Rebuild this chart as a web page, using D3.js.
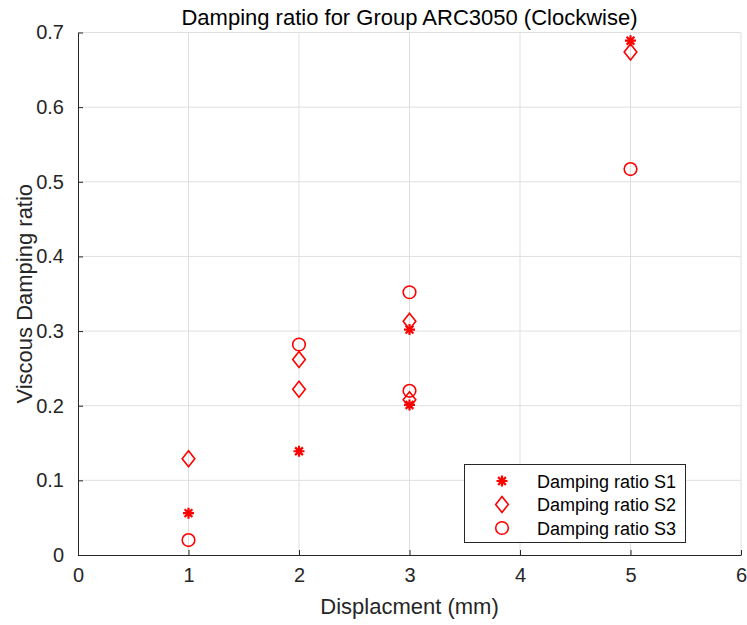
<!DOCTYPE html>
<html>
<head>
<meta charset="utf-8">
<script src="https://cdn.jsdelivr.net/npm/d3@7"></script>
<style>
  body { margin: 0; background: #fff; }
  svg { display: block; font-family: "Liberation Sans", Arial, Helvetica, sans-serif; }
</style>
</head>
<body>
<svg id="chart" width="747" height="625"></svg>
<script>
// Displacement (mm) and damping ratio for each specimen
const s1X = [1, 2, 3, 3, 5];
const s1Y = [0.056, 0.139, 0.302, 0.201, 0.689];
const s2X = [1, 2, 2, 3, 3, 5];
const s2Y = [0.129, 0.262, 0.222, 0.313, 0.208, 0.674];
const s3X = [1, 2, 3, 3, 5];
const s3Y = [0.020, 0.282, 0.352, 0.220, 0.517];

const xTicks = [0, 1, 2, 3, 4, 5, 6];
const yTicks = [0, 0.1, 0.2, 0.3, 0.4, 0.5, 0.6, 0.7];
const seriesNames = ["Damping ratio S1", "Damping ratio S2", "Damping ratio S3"];
const markerKinds = ["star", "diamond", "circle"];

const svg = d3.select("#chart");
const m = { left: 78, right: 741, top: 32.5, bottom: 555 };

const x = d3.scaleLinear().domain([0, 6]).range([m.left, m.right]);
const y = d3.scaleLinear().domain([0, 0.7]).range([m.bottom, m.top]);

const red = "#ff0000";

// Grid
const grid = svg.append("g");
grid.selectAll(".gx").data(xTicks.slice(1)).join("line")
  .attr("x1", d => x(d)).attr("x2", d => x(d))
  .attr("y1", m.top).attr("y2", m.bottom)
  .attr("stroke", "#dfdfdf").attr("stroke-width", 1);
grid.selectAll(".gy").data(yTicks.slice(1)).join("line")
  .attr("x1", m.left).attr("x2", m.right)
  .attr("y1", d => y(d)).attr("y2", d => y(d))
  .attr("stroke", "#dfdfdf").attr("stroke-width", 1);

// Axes with inward ticks
const xAxis = d3.axisBottom(x).tickValues(xTicks).tickFormat(d3.format("d"))
  .tickSizeInner(-5).tickSizeOuter(0).tickPadding(13);
const yAxis = d3.axisLeft(y).tickValues(yTicks).tickFormat(d => d === 0 ? "0" : d3.format(".1f")(d))
  .tickSizeInner(-5).tickSizeOuter(0).tickPadding(14);

const gx = svg.append("g").attr("transform", `translate(0,${m.bottom})`).call(xAxis);
const gy = svg.append("g").attr("transform", `translate(${m.left},0)`).call(yAxis);
[gx, gy].forEach(g => {
  g.select(".domain").attr("stroke", "#262626").attr("stroke-width", 1);
  g.selectAll(".tick line").attr("stroke", "#262626");
  g.selectAll(".tick text").attr("fill", "#262626")
    .style("font-size", "20px").style("font-family", "'Liberation Sans', Arial, sans-serif");
});

// Marker drawing
function drawMarker(g, kind) {
  if (kind === "circle") {
    g.append("circle").attr("r", 6.3).attr("fill", "none")
      .attr("stroke", red).attr("stroke-width", 1.6);
  } else if (kind === "diamond") {
    g.append("path").attr("d", "M0,-8 L6.3,0 L0,8 L-6.3,0 Z").attr("fill", "none")
      .attr("stroke", red).attr("stroke-width", 1.6);
  } else {
    const r = 5.5;
    const d = [0, 45, 90, 135].map(a => {
      const t = a * Math.PI / 180;
      return `M${-r * Math.cos(t)},${-r * Math.sin(t)}L${r * Math.cos(t)},${r * Math.sin(t)}`;
    }).join("");
    g.append("path").attr("d", d).attr("stroke", red).attr("stroke-width", 2.2)
      .attr("fill", "none");
  }
}

const series = [
  { xs: s1X, ys: s1Y },
  { xs: s2X, ys: s2Y },
  { xs: s3X, ys: s3Y }
];

series.forEach((s, i) => {
  const pts = s.xs.map((v, j) => [v, s.ys[j]]);
  svg.append("g").selectAll("g").data(pts).join("g")
    .attr("transform", d => `translate(${x(d[0])},${y(d[1])})`)
    .each(function () { drawMarker(d3.select(this), markerKinds[i]); });
});

// Title and axis labels
svg.append("text").attr("x", (m.left + m.right) / 2).attr("y", 25)
  .attr("text-anchor", "middle").attr("fill", "#000")
  .style("font-size", "22px").text("Damping ratio for Group ARC3050 (Clockwise)");
svg.append("text").attr("x", (m.left + m.right) / 2).attr("y", 614)
  .attr("text-anchor", "middle").attr("fill", "#262626")
  .style("font-size", "22px").text("Displacment (mm)");
svg.append("text")
  .attr("transform", `translate(32,${(m.top + m.bottom) / 2}) rotate(-90)`)
  .attr("text-anchor", "middle").attr("fill", "#262626")
  .style("font-size", "22px").text("Viscous Damping ratio");

// Legend
const lg = svg.append("g");
lg.append("rect").attr("x", 464.5).attr("y", 464.5).attr("width", 221).attr("height", 78)
  .attr("fill", "#fff").attr("stroke", "#262626").attr("stroke-width", 1);
seriesNames.forEach((name, i) => {
  const cy = 481 + i * 23.5;
  const mg = lg.append("g").attr("transform", `translate(502,${cy})`);
  drawMarker(mg, markerKinds[i]);
  lg.append("text").attr("x", 537).attr("y", cy + 6.5)
    .attr("fill", "#000").style("font-size", "18px").text(name);
});
</script>
</body>
</html>
